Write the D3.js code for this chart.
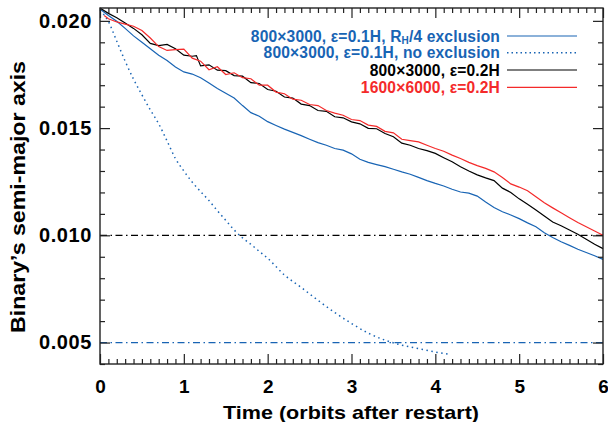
<!DOCTYPE html>
<html><head><meta charset="utf-8">
<script src="https://cdn.jsdelivr.net/npm/d3@7"></script>
<style>
body{margin:0;background:#fff;}
text{font-family:"Liberation Sans",Arial,sans-serif;font-weight:bold;}
</style></head>
<body><svg id="c" width="608" height="422"></svg>
<script>
// ---- data ----
const blueT = [0,0.1,0.2,0.3,0.4,0.5,0.6,0.7,0.8,0.9,1.0,1.1,1.2,1.3,1.4,1.5,1.6,1.7,1.8,1.9,2.0,2.1,2.2,2.3,2.4,2.5,2.6,2.7,2.8,2.9,3.0,3.1,3.2,3.3,3.4,3.5,3.6,3.7,3.8,3.9,4.0,4.1,4.2,4.3,4.4,4.5,4.6,4.7,4.8,4.9,5.0,5.1,5.2,5.3,5.4,5.5,5.6,5.7,5.8,5.9,6.0];
const blueA = [0.02055,0.02025,0.01998,0.01965,0.01930,0.01900,0.01870,0.01840,0.01815,0.01785,0.01762,0.01752,0.01735,0.01710,0.01685,0.01662,0.01640,0.01605,0.01572,0.01555,0.01530,0.01512,0.01495,0.01480,0.01465,0.01448,0.01432,0.01420,0.01405,0.01397,0.01380,0.01355,0.01340,0.01330,0.01320,0.01308,0.01296,0.01285,0.01270,0.01255,0.01242,0.01230,0.01215,0.01202,0.01197,0.01183,0.01155,0.01130,0.01110,0.01095,0.01078,0.01058,0.01040,0.01012,0.00990,0.00970,0.00953,0.00935,0.00920,0.00905,0.00888];

const dotT = [0,0.1,0.2,0.3,0.4,0.5,0.6,0.7,0.8,0.9,1.0,1.1,1.2,1.3,1.4,1.5,1.6,1.7,1.8,1.9,2.0,2.2,2.4,2.6,2.8,3.0,3.2,3.4,3.6,3.8,4.0,4.15];
const dotA = [0.02050,0.01997,0.01905,0.01812,0.01728,0.01655,0.01585,0.01520,0.01440,0.01358,0.01300,0.01248,0.01204,0.01162,0.01115,0.01070,0.01025,0.00988,0.00958,0.00925,0.00893,0.00815,0.00757,0.00697,0.00640,0.00589,0.00544,0.00511,0.00488,0.00472,0.00456,0.00446];

const blackT = [0,0.1,0.2,0.3,0.4,0.5,0.6,0.7,0.8,0.9,1.0,1.1,1.15,1.2,1.3,1.4,1.5,1.6,1.7,1.8,1.9,2.0,2.1,2.2,2.3,2.4,2.5,2.6,2.7,2.8,2.9,3.0,3.1,3.2,3.3,3.4,3.5,3.6,3.7,3.8,3.9,4.0,4.1,4.2,4.3,4.4,4.5,4.6,4.7,4.8,4.9,5.0,5.1,5.2,5.3,5.4,5.5,5.6,5.7,5.8,5.9,6.0];
const blackA = [0.02060,0.02035,0.02015,0.01990,0.01965,0.01935,0.01895,0.01885,0.01890,0.01870,0.01840,0.01835,0.01838,0.01790,0.01795,0.01770,0.01768,0.01745,0.01742,0.01712,0.01708,0.01680,0.01672,0.01645,0.01640,0.01612,0.01605,0.01582,0.01578,0.01553,0.01548,0.01529,0.01520,0.01499,0.01497,0.01475,0.01460,0.01430,0.01420,0.01405,0.01395,0.01382,0.01362,0.01343,0.01320,0.01300,0.01282,0.01268,0.01255,0.01220,0.01200,0.01170,0.01145,0.01118,0.01090,0.01062,0.01045,0.01025,0.01005,0.00982,0.00958,0.00938];

const redT = [0.05,0.1,0.2,0.3,0.4,0.5,0.6,0.7,0.8,0.9,1.0,1.1,1.2,1.3,1.4,1.5,1.6,1.7,1.8,1.9,2.0,2.1,2.2,2.3,2.4,2.5,2.6,2.7,2.8,2.9,3.0,3.1,3.2,3.3,3.4,3.5,3.6,3.7,3.8,3.9,4.0,4.1,4.2,4.3,4.4,4.5,4.6,4.7,4.8,4.9,5.0,5.1,5.2,5.3,5.4,5.5,5.6,5.7,5.8,5.9,6.0];
const redA = [0.02025,0.02010,0.01995,0.01985,0.01975,0.01955,0.01920,0.01880,0.01862,0.01866,0.01868,0.01826,0.01812,0.01772,0.01786,0.01750,0.01758,0.01735,0.01730,0.01700,0.01700,0.01668,0.01660,0.01635,0.01630,0.01610,0.01605,0.01582,0.01570,0.01560,0.01540,0.01535,0.01514,0.01508,0.01485,0.01478,0.01448,0.01442,0.01436,0.01420,0.01405,0.01392,0.01374,0.01358,0.01340,0.01325,0.01312,0.01296,0.01270,0.01240,0.01225,0.01208,0.01180,0.01152,0.01128,0.01105,0.01082,0.01060,0.01040,0.01020,0.01000];

const refLevels = [0.010, 0.005];
const xTicks = [0,1,2,3,4,5,6];
const yTicks = [0.005,0.010,0.015,0.020];
const legendLabels = ["800\u00d73000, \u03b5=0.1H, R","800\u00d73000, \u03b5=0.1H, no exclusion","800\u00d73000, \u03b5=0.2H","1600\u00d76000, \u03b5=0.2H"];
const xTitle = "Time (orbits after restart)";
const yTitle = "Binary\u2019s semi-major axis";

// ---- layout ----
const BLUE = "#1864b4", RED = "#f42a2a", BLACK = "#000";
const L = 100, R = 603, T = 8, B = 364;
const svg = d3.select("#c");
const x = d3.scaleLinear().domain([0,6]).range([L,R]);
const y = d3.scaleLinear().domain([0.004,0.0206]).range([B,T]);

// reference lines
const refColors = [BLACK, BLUE];
refLevels.forEach((v,i)=>{
  svg.append("line").attr("x1",x(0)).attr("x2",x(6)).attr("y1",y(v)).attr("y2",y(v))
    .attr("stroke",refColors[i]).attr("stroke-width",1.2).attr("stroke-dasharray","7,3.5,1.5,3.5");
});

const line = d3.line().x(d=>x(d[0])).y(d=>y(d[1]));
const smooth = d3.line().x(d=>x(d[0])).y(d=>y(d[1])).curve(d3.curveMonotoneX);
const series = [
  {t:blueT,a:blueA,c:BLUE,dash:null,gen:line},
  {t:dotT,a:dotA,c:BLUE,dash:"1.5,3.5",gen:smooth},
  {t:blackT,a:blackA,c:BLACK,dash:null,gen:line},
  {t:redT,a:redA,c:RED,dash:null,gen:line}
];
series.forEach(s=>{
  const pts = s.t.map((t,i)=>[t,s.a[i]]);
  svg.append("path").attr("d",s.gen(pts)).attr("fill","none").attr("stroke",s.c)
    .attr("stroke-width",s.dash?1.5:1.2).attr("stroke-dasharray",s.dash);
});

// axes
const minorX = d3.range(0,60).map(i=>i/10).filter(v=>Math.abs(v-Math.round(v))>1e-6);
const minorY = d3.range(4,21).map(i=>i/1000).filter(v=>Math.round(v*1000)%5!==0);
function ax(gen, pos, vals, size, fmt){
  const g = svg.append("g").attr("transform",pos)
    .call(gen.tickValues(vals).tickSizeInner(size).tickSizeOuter(0).tickPadding(8).tickFormat(fmt||(()=>"")));
  g.select(".domain").remove();
  g.selectAll(".tick line").attr("stroke","#222").attr("stroke-width",1.2);
  return g;
}
const gxb = ax(d3.axisBottom(x), `translate(0,${B})`, xTicks, -10, d3.format("d"));
gxb.selectAll("text").attr("font-size",19).attr("fill","#000").attr("y",0).attr("dy",29)
  .style("font-family","Liberation Sans").style("font-weight","bold");
ax(d3.axisBottom(x), `translate(0,${B})`, minorX, -5);
ax(d3.axisTop(x), `translate(0,${T})`, xTicks, -10);
ax(d3.axisTop(x), `translate(0,${T})`, minorX, -5);
const gyl = ax(d3.axisLeft(y), `translate(${L},0)`, yTicks, -10, d3.format(".3f"));
gyl.selectAll("text").attr("font-size",20).attr("fill","#000").attr("x",-8).attr("letter-spacing",0.6)
  .style("font-family","Liberation Sans").style("font-weight","bold");
ax(d3.axisLeft(y), `translate(${L},0)`, minorY, -5);
ax(d3.axisRight(y), `translate(${R},0)`, yTicks, -10);
ax(d3.axisRight(y), `translate(${R},0)`, minorY, -5);

svg.append("rect").attr("x",L).attr("y",T).attr("width",R-L).attr("height",B-T)
  .attr("fill","none").attr("stroke","#222").attr("stroke-width",1.4);

// titles
svg.append("text").attr("x",351).attr("y",419).attr("text-anchor","middle").attr("font-size",19)
  .attr("textLength",256).attr("lengthAdjust","spacingAndGlyphs").text(xTitle);
svg.append("text").attr("transform","translate(25,197) rotate(-90)").attr("text-anchor","middle")
  .attr("font-size",21).attr("textLength",272).attr("lengthAdjust","spacingAndGlyphs").text(yTitle);

// legend
const legColors = [BLUE,BLUE,BLACK,RED];
const legDash = [null,"1.5,3",null,null];
const legY = [36,52.7,70,87.3];
legendLabels.forEach((lab,i)=>{
  const t = svg.append("text").attr("x",500).attr("y",legY[i]+5.5).attr("text-anchor","end")
    .attr("font-size",15.6).attr("letter-spacing",0.15).attr("fill",legColors[i]);
  t.append("tspan").text(lab);
  if(i===0){
    t.append("tspan").attr("font-size",10).attr("dy",2.5).text("H");
    t.append("tspan").attr("dy",-2.5).text("/4 exclusion");
  }
  svg.append("line").attr("x1",507).attr("x2",577).attr("y1",legY[i]).attr("y2",legY[i])
    .attr("stroke",legColors[i]).attr("stroke-width",legDash[i]?1.5:1.2).attr("stroke-dasharray",legDash[i]);
});
</script></body></html>
